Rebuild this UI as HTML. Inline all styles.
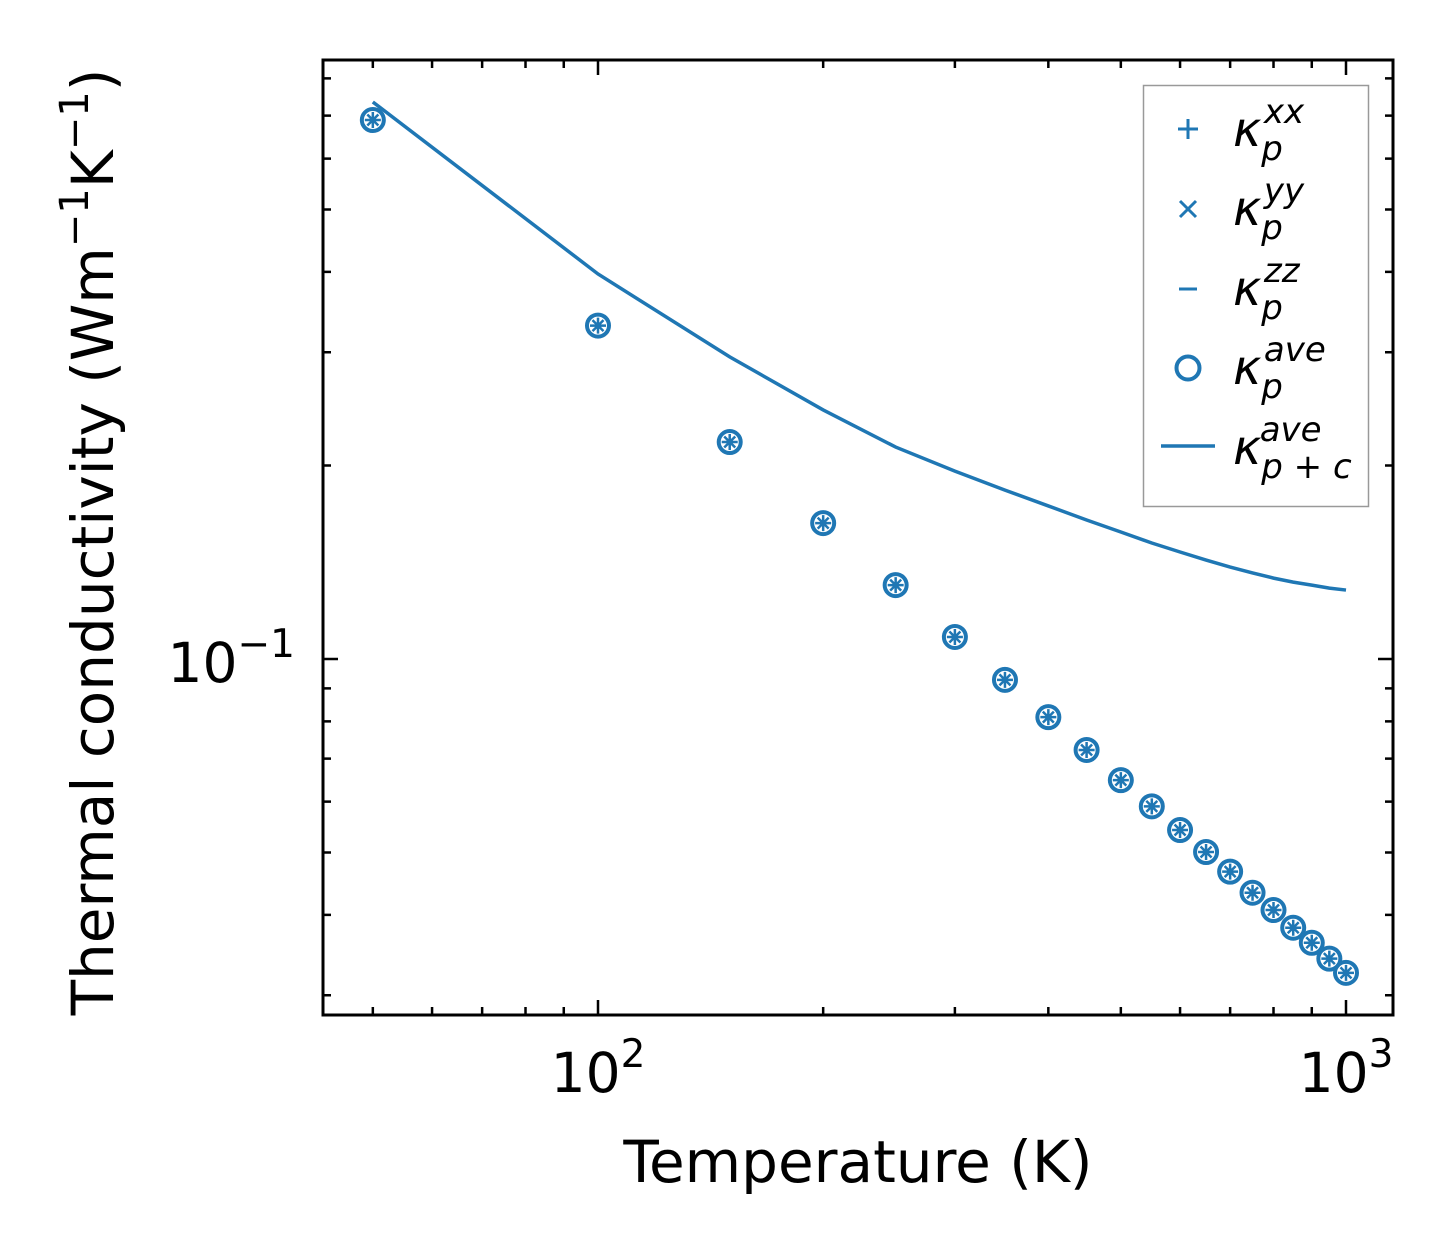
<!DOCTYPE html>
<html><head><meta charset="utf-8"><style>
html,body{margin:0;padding:0;background:#fff;}
svg text{font-family:"DejaVu Sans","Liberation Sans",sans-serif;}
</style></head><body>
<svg id="chart" width="1454" height="1254" viewBox="0 0 1454 1254" xmlns="http://www.w3.org/2000/svg">
<rect width="1454" height="1254" fill="#fff"/>
<g id="ticks"></g>
<g id="marks"></g>
<rect x="323" y="60" width="1070" height="955" fill="none" stroke="#000" stroke-width="3"/>
<text x="598" y="1092" font-size="55" text-anchor="middle">10<tspan font-size="39" dy="-25">2</tspan></text>
<text x="1346" y="1092" font-size="55" text-anchor="middle">10<tspan font-size="39" dy="-25">3</tspan></text>
<text x="295" y="682" font-size="55" text-anchor="end">10<tspan font-size="39" dy="-25">−1</tspan></text>
<text x="858" y="1182" font-size="58" text-anchor="middle">Temperature (K)</text>
<text transform="translate(113,542) rotate(-90)" font-size="58" text-anchor="middle">Thermal conductivity (Wm<tspan font-size="40" dy="-25">−1</tspan><tspan dy="25">K</tspan><tspan font-size="40" dy="-25">−1</tspan><tspan dy="25">)</tspan></text>
<g>
<rect x="1143.5" y="85.5" width="225" height="421" fill="#fff" stroke="#999" stroke-width="1.5"/>
<g>
<path d="M1178 129h20M1188 119v20" stroke="#1f77b4" stroke-width="3"/>
<text x="1233" y="146" font-size="48" font-style="italic">κ<tspan font-size="34" dy="14">p</tspan><tspan font-size="34" dx="-19" dy="-37">xx</tspan></text></g>
<g>
<path d="M1180 201l16 16M1196 201l-16 16" stroke="#1f77b4" stroke-width="3"/>
<text x="1233" y="225" font-size="48" font-style="italic">κ<tspan font-size="34" dy="14">p</tspan><tspan font-size="34" dx="-19" dy="-37">yy</tspan></text></g>
<g>
<path d="M1179 289h18" stroke="#1f77b4" stroke-width="3"/>
<text x="1233" y="305" font-size="48" font-style="italic">κ<tspan font-size="34" dy="14">p</tspan><tspan font-size="34" dx="-19" dy="-37">zz</tspan></text></g>
<g>
<circle cx="1188" cy="368" r="11.5" fill="none" stroke="#1f77b4" stroke-width="4"/>
<text x="1233" y="384" font-size="48" font-style="italic">κ<tspan font-size="34" dy="14">p</tspan><tspan font-size="34" dx="-19" dy="-37">ave</tspan></text></g>
<g>
<path d="M1161 446h54" stroke="#1f77b4" stroke-width="3.5"/>
<text x="1233" y="464" font-size="48" font-style="italic">κ<tspan font-size="34" dy="14">p + c</tspan><tspan font-size="34" dx="-92" dy="-37">ave</tspan></text></g>
</g>
</svg>
<script>
const temps = [50,100,150,200,250,300,350,400,450,500,550,600,650,700,750,800,850,900,950,1000];
const kappaP = [0.689,0.330,0.2175,0.1627,0.1303,0.1082,0.0928,0.0812,0.0722,0.0648,0.0590,0.0542,0.0501,0.0467,0.0433,0.0407,0.0382,0.0362,0.0342,0.0325];
const kappaPC = [0.735,0.397,0.295,0.244,0.2136,0.196,0.1831,0.173,0.1645,0.1576,0.1515,0.1467,0.1425,0.139,0.1361,0.1336,0.1317,0.1303,0.1289,0.128];
const xMajor = [100,1000];
const xMinor = [50,60,70,80,90,200,300,400,500,600,700,800,900];
const yMajor = [0.1];
const yMinor = [0.03,0.04,0.05,0.06,0.07,0.08,0.09,0.2,0.3,0.4,0.5,0.6,0.7,0.8];
const NS='http://www.w3.org/2000/svg';
const X0=323,X1=1393,Y0=60,Y1=1015;
function xs(v){return 598+(Math.log10(v)-2)*748;}
function ys(v){return 659-(Math.log10(v)+1)*643;}
function mk(tag,attrs,parent){const e=document.createElementNS(NS,tag);for(const k in attrs)e.setAttribute(k,attrs[k]);parent.appendChild(e);return e;}
const tg=document.getElementById('ticks');
function xtick(v,len){const x=xs(v);if(x<X0||x>X1)return;
 const a=mk('path',{d:`M${x} ${Y1}v${-len}M${x} ${Y0}v${len}`,stroke:'#000','stroke-width':2.5},tg);
 
 }
function ytick(v,len){const y=ys(v);if(y<Y0||y>Y1)return;
 const a=mk('path',{d:`M${X0} ${y}h${len}M${X1} ${y}h${-len}`,stroke:'#000','stroke-width':2.5},tg);
 
 }
xMajor.forEach(v=>xtick(v,15));xMinor.forEach(v=>xtick(v,8));
yMajor.forEach(v=>ytick(v,15));yMinor.forEach(v=>ytick(v,8));
const mg=document.getElementById('marks');
const line=mk('polyline',{points:temps.map((t,i)=>`${xs(t)},${ys(kappaPC[i])}`).join(' '),fill:'none',stroke:'#1f77b4','stroke-width':3.5},mg);


temps.forEach((t,i)=>{const x=xs(t),y=ys(kappaP[i]);
 const g=mk('g',{},mg);
 
 
 mk('circle',{cx:x,cy:y,r:11,fill:'none',stroke:'#1f77b4','stroke-width':4},g);
 mk('path',{d:`M${x-8} ${y}h16M${x} ${y-8}v16M${x-5.5} ${y-5.5}l11 11M${x+5.5} ${y-5.5}l-11 11`,stroke:'#1f77b4','stroke-width':2.5},g);
});
</script>
</body></html>
